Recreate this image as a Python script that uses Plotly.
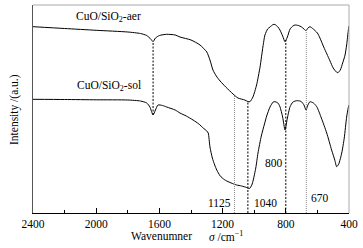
import numpy as np
import plotly.graph_objects as go

# ---- data (wavenumber cm^-1, intensity a.u.) ----
aer_w = [2400, 2200, 2000, 1800, 1720, 1680, 1655, 1640, 1625, 1600, 1554, 1500, 1470, 1400, 1343,
         1300, 1280, 1261, 1240, 1216, 1180, 1134, 1103, 1060, 1040, 1027, 1008, 985, 963, 945,
         932, 915, 900, 880, 868, 850, 837, 820, 805, 790, 773, 755, 742, 720, 700, 685, 672,
         660, 647, 630, 600, 584, 560, 540, 520, 500, 480, 470, 455, 440, 425, 415, 404, 400]
aer_px = [26.7, 28.5, 30.3, 32, 33.5, 35.5, 39, 41.7, 38, 35.5, 34.3, 35, 37, 40, 45,
          52, 60, 70, 76, 81, 87, 94, 98, 100, 101.5, 101.7, 97, 85, 67, 47,
          35, 29, 27, 24.5, 24.5, 27, 30, 36, 41.7, 37, 29, 26, 25, 25.5, 27, 29, 30.7,
          28, 26.7, 28.5, 33, 38, 47, 54, 61, 68, 72, 72.7, 70, 63, 55, 45, 30, 26]

sol_w = [2400, 2200, 2000, 1800, 1720, 1680, 1660, 1640, 1625, 1609, 1580, 1554, 1500, 1470, 1430,
         1387, 1350, 1323, 1300, 1291, 1280, 1265, 1250, 1237, 1215, 1190, 1174, 1130, 1111, 1080,
         1047, 1030, 1015, 1006, 990, 976, 955, 935, 921, 900, 880, 868, 850, 837, 820, 805, 790,
         773, 755, 731, 710, 699, 685, 672, 660, 647, 625, 604, 575, 541, 510, 490, 478, 465,
         446, 430, 415, 405, 400]
sol_px = [99.3, 99.5, 99.8, 100, 101, 103, 107, 115, 110, 105, 105.5, 107, 110, 113, 116,
          120, 124, 128, 131, 133, 147, 158, 165, 170, 176, 179.5, 181, 184, 185, 186,
          187.5, 188.5, 185, 180, 168, 153, 136, 124, 116, 107, 102, 101.7, 103, 106.7, 117, 130, 118,
          106.7, 102, 100.7, 101, 102, 105, 110, 105, 101.7, 103, 106.7, 118, 133, 150, 160, 166.7, 164,
          153, 138, 117, 108, 105]

aer_y = [213 - v for v in aer_px]
sol_y = [213 - v for v in sol_px]

peaks_full = [1125, 1040, 800, 670]       # lines from aer curve to axis
peak_styles = {1125: ("#8a8a8a", "1px,1px"), 1040: ("#000000", "2px,1.5px"),
               800: ("#000000", "2px,1.5px"), 670: ("#8a8a8a", "1px,1px")}
peak_1640 = 1640                          # line between the two curves

xticks = [2400, 2000, 1600, 1200, 800, 400]

FONT = "Liberation Serif, Times New Roman, serif"

fig = go.Figure()
fig.add_trace(go.Scatter(x=aer_w, y=aer_y, mode="lines",
                         line=dict(color="black", width=1, shape="spline", smoothing=0.6),
                         showlegend=False, hoverinfo="skip"))
fig.add_trace(go.Scatter(x=sol_w, y=sol_y, mode="lines",
                         line=dict(color="black", width=1, shape="spline", smoothing=0.6),
                         showlegend=False, hoverinfo="skip"))

aw = np.array(aer_w[::-1]); ay = np.array(aer_y[::-1])
sw = np.array(sol_w[::-1]); sy = np.array(sol_y[::-1])

for p in peaks_full:
    col, dash = peak_styles[p]
    top = float(np.interp(p, aw, ay))
    fig.add_shape(type="line", x0=p, x1=p, y0=0, y1=top, xref="x", yref="y",
                  line=dict(color=col, width=1, dash=dash))
fig.add_shape(type="line", x0=peak_1640, x1=peak_1640,
              y0=float(np.interp(peak_1640, sw, sy)), y1=float(np.interp(peak_1640, aw, ay)),
              xref="x", yref="y", line=dict(color="black", width=1, dash="2px,1.5px"))

# frame top/right in light gray
fig.add_shape(type="line", xref="paper", yref="paper", x0=0, x1=1, y0=1, y1=1,
              line=dict(color="#aaaaaa", width=1))
fig.add_shape(type="line", xref="paper", yref="paper", x0=1, x1=1, y0=0, y1=1,
              line=dict(color="#aaaaaa", width=1))

L, T, R, B = 33, 5, 349, 213
def px(x): return (x - L) / (R - L)
def py(y): return (B - y) / (B - T)

ann = [
    ("CuO/SiO<sub>2</sub>-aer", 74, 17, "left"),
    ("CuO/SiO<sub>2</sub>-sol", 75, 86, "left"),
    ("800", 285, 163, "right"),
    ("1125", 233, 203, "right"),
    ("1040", 252, 203, "left"),
    ("670", 309, 198, "left"),
    ("Wavenumner", 129, 236, "left"),
    ("<i>σ</i> /cm<sup>−1</sup>", 207, 236, "left"),
]
for text, x, y, anchor in ann:
    fig.add_annotation(text=text, x=px(x), y=py(y), xref="paper", yref="paper",
                       xanchor=anchor, yanchor="middle", showarrow=False,
                       font=dict(family=FONT, size=11.5, color="black"))

fig.add_annotation(text="Intensity /(a.u.)", x=px(14), y=py(110), xref="paper", yref="paper",
                   textangle=-90, showarrow=False, xanchor="center", yanchor="middle",
                   font=dict(family=FONT, size=11.5, color="black"))

fig.update_layout(
    width=363, height=248,
    margin=dict(l=L, r=363 - R, t=T, b=248 - B),
    paper_bgcolor="white", plot_bgcolor="white",
    xaxis=dict(range=[2400, 400], tickvals=xticks, ticktext=[str(t) for t in xticks],
               ticks="inside", ticklen=5, tickcolor="black", tickwidth=1,
               minor=dict(ticks="inside", ticklen=3, dtick=200, tick0=400, tickcolor="black"),
               showgrid=False, zeroline=False, showline=True, linecolor="black", linewidth=1,
               tickfont=dict(family=FONT, size=11.5, color="black")),
    yaxis=dict(range=[0, 208], showticklabels=False, ticks="", showgrid=False, zeroline=False,
               showline=True, linecolor="#555555", linewidth=1),
)

fig.write_html("out.html", config={"displayModeBar": False, "staticPlot": True},
               post_script="document.body.style.margin='0';document.body.style.overflow='hidden';")
